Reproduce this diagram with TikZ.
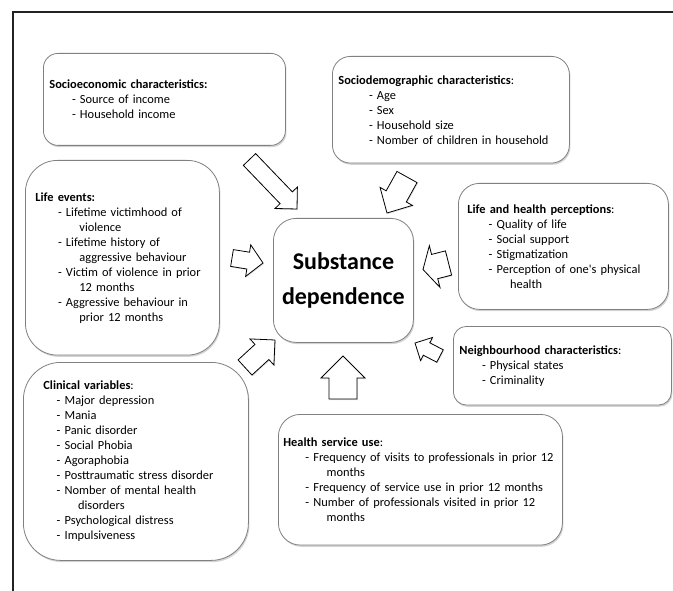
\documentclass[tikz,border=0pt]{standalone}
\usepackage{fontspec}
\setmainfont{Carlito}
\usetikzlibrary{calc, shadows}

\definecolor{boxline}{HTML}{808080}
\definecolor{framecol}{HTML}{222222}

% block arrow: tail, tip, shaft width, head width, head length
\newcommand{\blockarrow}[5]{%
  \coordinate (hb) at ($(#2)!#5!(#1)$);
  \draw[blockarr] ($(#1)!#3/2!90:(#2)$) -- ($(hb)!#3/2!-90:(#1)$)
    -- ($(hb)!#4/2!-90:(#1)$) -- (#2) -- ($(hb)!#4/2!90:(#1)$)
    -- ($(hb)!#3/2!90:(#1)$) -- ($(#1)!#3/2!-90:(#2)$) -- cycle;
}

\begin{document}
\begin{tikzpicture}[
  x=0.75pt, y=-0.75pt,
  box/.style={rectangle, draw=boxline, fill=white, line width=0.6pt,
    align=left, anchor=north west, inner ysep=0pt,
    font=\fontsize{9.3}{11.25}\selectfont,
    drop shadow={shadow xshift=0.8pt, shadow yshift=-1.3pt, opacity=0.35}},
  blockarr/.style={draw=black, fill=white, line width=0.6pt, line join=miter,
    drop shadow={shadow xshift=0.6pt, shadow yshift=-0.8pt, opacity=0.25}},
  frameline/.style={draw=framecol, line width=1.6pt}
]
\useasboundingbox (0,0) rectangle (673,591);

\draw[frameline] (13,591) -- (13,12) -- (673,12);

\node[box, rounded corners=11pt, text width=172.5pt, inner xsep=4.5pt,
  minimum height=69pt] (socecon) at (43,53)
  {\textbf{Socioeconomic characteristics:}\\
   \hspace*{17pt}- Source of income\\
   \hspace*{17pt}- Household income};

\node[box, rounded corners=13.5pt, text width=168.75pt, inner xsep=4.5pt,
  minimum height=80pt] (socdem) at (332,56)
  {\textbf{Sociodemographic characteristics}:\\
   \hspace*{23pt}- Age\\
   \hspace*{23pt}- Sex\\
   \hspace*{23pt}- Household size\\
   \hspace*{23pt}- Nomber of children in household};

\node[box, rounded corners=24pt, text width=130.5pt, inner xsep=7.5pt,
  minimum height=146pt] (life) at (25,160)
  {\textbf{Life events:}\\
   \hspace*{17pt}- Lifetime victimhood of\\
   \hspace*{33pt}violence\\
   \hspace*{17pt}- Lifetime history of\\
   \hspace*{33pt}aggressive behaviour\\
   \hspace*{17pt}- Victim of violence in prior\\
   \hspace*{33pt}12 months\\
   \hspace*{17pt}- Aggressive behaviour in\\
   \hspace*{33pt}prior 12 months};

\node[box, rounded corners=17pt, align=center, text width=95pt, inner xsep=5pt,
  minimum height=93pt, font=\fontsize{18}{26}\selectfont\bfseries] (subst) at (273,218)
  {Substance\\dependence};

\node[box, rounded corners=15.75pt, text width=144pt, inner xsep=6.75pt,
  minimum height=94.5pt] (perc) at (458,183)
  {\textbf{Life and health perceptions}:\\
   \hspace*{16pt}- Quality of life\\
   \hspace*{16pt}- Social support\\
   \hspace*{16pt}- Stigmatization\\
   \hspace*{16pt}- Perception of one\textquotesingle s physical\\
   \hspace*{32pt}health};

\node[box, rounded corners=9.75pt, text width=154.5pt, inner xsep=4.5pt,
  minimum height=59pt] (neigh) at (453,326)
  {\textbf{Neighbourhood characteristics}:\\
   \hspace*{17pt}- Physical states\\
   \hspace*{17pt}- Criminality};

\node[box, rounded corners=16.5pt, text width=205.5pt, inner xsep=3.75pt,
  minimum height=98pt] (health) at (278,414)
  {\textbf{Health service use}:\\
   \hspace*{16.5pt}- Frequency of visits to professionals in prior 12\\
   \hspace*{32.5pt}months\\
   \hspace*{16.5pt}- Frequency of service use in prior 12 months\\
   \hspace*{16.5pt}- Number of professionals visited in prior 12\\
   \hspace*{32.5pt}months};

\node[box, rounded corners=28pt, text width=138.75pt, inner xsep=15pt,
  minimum height=148.5pt] (clin) at (23,362)
  {\textbf{Clinical variables}:\\
   \hspace*{10pt}- Major depression\\
   \hspace*{10pt}- Mania\\
   \hspace*{10pt}- Panic disorder\\
   \hspace*{10pt}- Social Phobia\\
   \hspace*{10pt}- Agoraphobia\\
   \hspace*{10pt}- Posttraumatic stress disorder\\
   \hspace*{10pt}- Nomber of mental health\\
   \hspace*{26pt}disorders\\
   \hspace*{10pt}- Psychological distress\\
   \hspace*{10pt}- Impulsiveness};

% arrow ends
\coordinate (socecon-t) at (249.5,159.5);
\coordinate (socecon-h) at (297,209);
\coordinate (socdem-t) at (407,177);
\coordinate (socdem-h) at (387,213);
\coordinate (life-t) at (232,258);
\coordinate (life-h) at (263,263);
\coordinate (perc-t) at (448.5,263);
\coordinate (perc-h) at (423,269.5);
\coordinate (clin-t) at (245,367.5);
\coordinate (clin-h) at (275,340);
\coordinate (health-t) at (343,399);
\coordinate (health-h) at (343,356);
\coordinate (neigh-t) at (440,356);
\coordinate (neigh-h) at (415,343);

\blockarrow{socecon-t}{socecon-h}{12.75pt}{23.25pt}{11.7pt}
\blockarrow{socdem-t}{socdem-h}{17.25pt}{27.75pt}{14.25pt}
\blockarrow{life-t}{life-h}{12.75pt}{24pt}{11.25pt}
\blockarrow{perc-t}{perc-h}{18.75pt}{32.25pt}{9pt}
\blockarrow{clin-t}{clin-h}{15.4pt}{26.6pt}{13.3pt}
\blockarrow{health-t}{health-h}{21pt}{33pt}{16.5pt}
\blockarrow{neigh-t}{neigh-h}{10.5pt}{19.5pt}{9.75pt}
\end{tikzpicture}
\end{document}
